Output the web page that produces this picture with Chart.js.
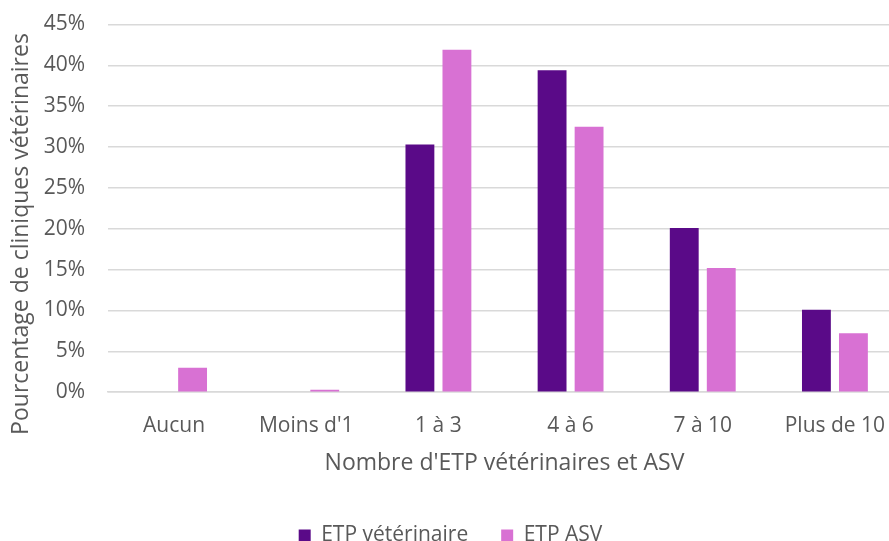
<!DOCTYPE html>
<html>
<head>
<meta charset="utf-8">
<script src="https://cdn.jsdelivr.net/npm/chart.js@4.4.1/dist/chart.umd.min.js"></script>
<style>
html,body{margin:0;padding:0;background:#fff;overflow:hidden;}
#wrap{width:901px;height:556px;}
</style>
</head>
<body>
<div id="wrap"><canvas id="c" width="901" height="556"></canvas></div>
<script>
const categories = ["Aucun", "Moins d'1", "1 à 3", "4 à 6", "7 à 10", "Plus de 10"];
const etpVeterinaire = [0, 0, 30.3, 39.4, 20.1, 10.1];
const etpASV = [3.0, 0.3, 41.9, 32.5, 15.2, 7.2];
const seriesNames = ["ETP vétérinaire", "ETP ASV"];
const yTicks = [0, 5, 10, 15, 20, 25, 30, 35, 40, 45];
const xTitle = "Nombre d'ETP vétérinaires et ASV";
const yTitle = "Pourcentage de cliniques vétérinaires";

const FONT = "'Open Sans', sans-serif";
const TXT = "#595959";

// draws the y-axis title (rotated) as canvas text, left of the tick labels
const yTitlePlugin = {
  id: 'yTitle',
  afterDraw(chart) {
    const ctx = chart.ctx;
    ctx.save();
    ctx.translate(21, 234);
    ctx.rotate(-Math.PI / 2);
    ctx.font = "23px " + FONT;
    ctx.fillStyle = TXT;
    ctx.textAlign = 'center';
    ctx.textBaseline = 'middle';
    ctx.fillText(yTitle, 0, 0);
    ctx.restore();
  }
};

new Chart(document.getElementById('c'), {
  type: 'bar',
  data: {
    labels: categories,
    datasets: [
      { label: seriesNames[0], data: etpVeterinaire, backgroundColor: '#5a0a88', categoryPercentage: 0.56, barPercentage: 0.78 },
      { label: seriesNames[1], data: etpASV, backgroundColor: '#d871d3', categoryPercentage: 0.56, barPercentage: 0.78 }
    ]
  },
  plugins: [yTitlePlugin],
  options: {
    responsive: false,
    animation: false,
    layout: { padding: { top: 24.5, left: 0, right: 0, bottom: 0 } },
    plugins: {
      legend: {
        position: 'bottom',
        labels: { font: { family: FONT, size: 21 }, color: TXT, boxWidth: 12, boxHeight: 12, padding: 33 }
      },
      tooltip: { enabled: false }
    },
    scales: {
      x: {
        grid: { display: true, color: 'transparent', drawTicks: true, tickLength: 21, tickColor: 'transparent' },
        border: { color: '#d9d9d9', width: 1.5 },
        ticks: { font: { family: FONT, size: 21 }, color: TXT, padding: 0, maxRotation: 0, autoSkip: false },
        title: { display: true, text: xTitle, font: { family: FONT, size: 23 }, color: TXT, padding: { top: 11, bottom: 15 } }
      },
      y: {
        min: 0, max: 45,
        afterBuildTicks: (axis) => { axis.ticks = yTicks.map(v => ({ value: v })); },
        afterFit: (axis) => { axis.width = 108; },
        grid: { color: '#d9d9d9', lineWidth: 1.6, drawTicks: true, tickLength: 20, tickColor: 'transparent' },
        border: { display: false },
        ticks: { font: { family: FONT, size: 21 }, color: TXT, padding: 3, callback: v => v + '%' },
        title: { display: false }
      }
    }
  }
});
</script>
</body>
</html>
